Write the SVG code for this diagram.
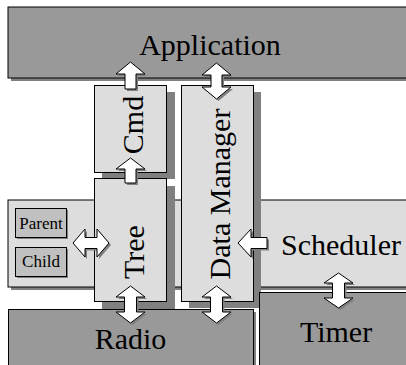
<svg xmlns="http://www.w3.org/2000/svg" width="406" height="365" viewBox="0 0 406 365">
<style>
.dark{fill:#999999;stroke:#000;stroke-width:1}
.light{fill:#dddddd;stroke:#000;stroke-width:1}
.small{fill:#c0c0c0;stroke:#000;stroke-width:1}
.shd{fill:#808080}
.arr{fill:#ffffff;stroke:#000;stroke-width:1;stroke-linejoin:miter}
.arrs{fill:#808080}
.big{font-family:"Liberation Serif","Times New Roman",serif;font-size:30px;fill:#000}
.lbl{font-family:"Liberation Serif","Times New Roman",serif;font-size:17px;fill:#000}
</style>
<rect width="406" height="365" fill="#ffffff"/>
<g id="application">
<rect class="shd" x="11" y="10" width="400" height="71"/>
<rect class="dark" x="8" y="7" width="400" height="71"/>
<text class="big" x="210" y="55" text-anchor="middle">Application</text>
</g>
<g id="scheduler">
<rect class="shd" x="11" y="203" width="400" height="87"/>
<rect class="light" x="8" y="200" width="400" height="87"/>
<text class="big" x="341" y="255" text-anchor="middle">Scheduler</text>
</g>
<g id="cmd">
<rect class="shd" x="102" y="92" width="73" height="87"/>
<rect class="light" x="94.5" y="85.5" width="72" height="87"/>
<text class="big" transform="translate(143,125) rotate(-90)" text-anchor="middle">Cmd</text>
</g>
<g id="tree">
<rect class="shd" x="102" y="186" width="73" height="123"/>
<rect class="light" x="94.5" y="178.5" width="72" height="123"/>
<text class="big" transform="translate(144,252) rotate(-90)" text-anchor="middle">Tree</text>
</g>
<g id="datamanager">
<rect class="shd" x="189" y="92" width="72" height="216"/>
<rect class="light" x="181.5" y="85.5" width="72" height="216"/>
<text class="big" transform="translate(230,194) rotate(-90)" text-anchor="middle">Data Manager</text>
</g>
<g id="radio">
<rect class="shd" x="11" y="312" width="245" height="60"/>
<rect class="dark" x="8.5" y="309.5" width="245" height="60"/>
<text class="big" x="130.5" y="349" text-anchor="middle">Radio</text>
</g>
<g id="timer">
<rect class="dark" x="259.5" y="292.5" width="150" height="80"/>
<text class="big" x="336" y="342" text-anchor="middle">Timer</text>
</g>
<g id="parent">
<rect class="shd" x="17" y="210" width="51" height="29"/>
<rect class="small" x="15.5" y="208.5" width="51" height="29"/>
<text class="lbl" x="41" y="229" text-anchor="middle">Parent</text>
</g>
<g id="child">
<rect class="shd" x="17" y="249" width="51" height="29"/>
<rect class="small" x="15.5" y="247.5" width="51" height="29"/>
<text class="lbl" x="41" y="267" text-anchor="middle">Child</text>
</g>
<g id="connectors">
<g transform="translate(2,2)">
<path class="arrs" d="M130.5,62 L145,74 L136,74 L136,89 L125,89 L125,74 L116,74 Z"/>
<path class="arrs" d="M216.5,63 L231,75 L222,75 L222,87 L231,87 L216.5,99 L202,87 L211,87 L211,75 L202,75 Z"/>
<path class="arrs" d="M130.5,158 L145,169 L136,169 L136,183 L125,183 L125,169 L116,169 Z"/>
<path class="arrs" d="M130.5,286 L145,297 L136.5,297 L136.5,312 L145,312 L130.5,323 L116,312 L124.5,312 L124.5,297 L116,297 Z"/>
<path class="arrs" d="M216.5,286 L231,297 L222.5,297 L222.5,312 L231,312 L216.5,323 L202,312 L210.5,312 L210.5,297 L202,297 Z"/>
<path class="arrs" d="M238,243 L251,229 L251,237.5 L267,237.5 L267,248.5 L251,248.5 L251,257 Z"/>
<path class="arrs" d="M73,243 L85,229 L85,237.5 L97,237.5 L97,229 L109,243 L97,257 L97,248.5 L85,248.5 L85,257 Z"/>
<path class="arrs" d="M338.5,273 L353,283 L344.5,283 L344.5,298 L353,298 L338.5,308 L324,298 L332.5,298 L332.5,283 L324,283 Z"/>
</g>
<path class="arr" d="M130.5,62 L145,74 L136,74 L136,89 L125,89 L125,74 L116,74 Z"/>
<path class="arr" d="M216.5,63 L231,75 L222,75 L222,87 L231,87 L216.5,99 L202,87 L211,87 L211,75 L202,75 Z"/>
<path class="arr" d="M130.5,158 L145,169 L136,169 L136,183 L125,183 L125,169 L116,169 Z"/>
<path class="arr" d="M130.5,286 L145,297 L136.5,297 L136.5,312 L145,312 L130.5,323 L116,312 L124.5,312 L124.5,297 L116,297 Z"/>
<path class="arr" d="M216.5,286 L231,297 L222.5,297 L222.5,312 L231,312 L216.5,323 L202,312 L210.5,312 L210.5,297 L202,297 Z"/>
<path class="arr" d="M238,243 L251,229 L251,237.5 L267,237.5 L267,248.5 L251,248.5 L251,257 Z"/>
<path class="arr" d="M73,243 L85,229 L85,237.5 L97,237.5 L97,229 L109,243 L97,257 L97,248.5 L85,248.5 L85,257 Z"/>
<path class="arr" d="M338.5,273 L353,283 L344.5,283 L344.5,298 L353,298 L338.5,308 L324,298 L332.5,298 L332.5,283 L324,283 Z"/>
</g>
</svg>
